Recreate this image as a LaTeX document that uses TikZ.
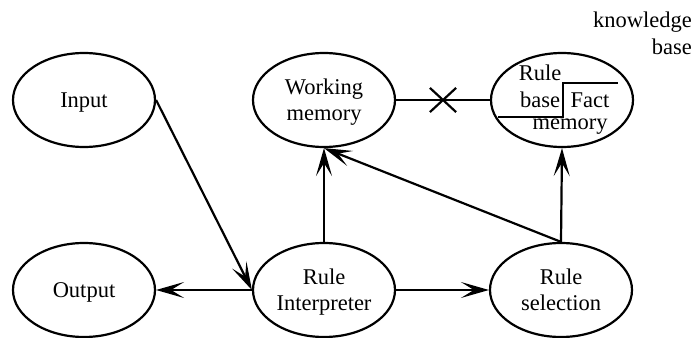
\documentclass[tikz,border=0pt]{standalone}
\usepackage{fontspec}
\setmainfont{Liberation Serif}
\usetikzlibrary{shapes.geometric, shapes.misc, arrows.meta}

\begin{document}
\begin{tikzpicture}[x=1pt, y=-1pt, line width=2.2pt,
    every node/.style={font=\fontsize{22.5}{26}\selectfont},
    blob/.style={ellipse, draw, minimum width=142pt, minimum height=94pt, inner sep=0pt, align=center, text depth=0pt},
    arr/.style={-{Stealth[length=28pt, width=16pt, inset=13pt]}},
    crossmark/.style={cross out, draw, minimum width=24pt, minimum height=22pt, inner sep=0pt},
    word/.style={anchor=base, inner sep=0pt}]
  \useasboundingbox (0,0) rectangle (698,337);

  % top row
  \node[blob] (input) at (84,100) {Input};
  \node[blob] (wm) at (324,100) {Working\\memory};
  \node[blob] (kb) at (562,100) {};

  % bottom row
  \node[blob] (output) at (84,290) {Output};
  \node[blob] (ri) at (324,290) {Rule\\Interpreter};
  \node[blob] (rs) at (561,290) {Rule\\selection};

  % inside the knowledge base
  \draw (498,117) -| (563,83) -- (618,83);
  \node[word] (rulew) at (540,81) {Rule};
  \node[word] (basew) at (540,107) {base};
  \node[word] (factw) at (590,107) {Fact};
  \node[word] (memw) at (570,129) {memory};

  \node[word, anchor=base east] (kbtop) at (693,28) {knowledge};
  \node[word, anchor=base east] (kbbot) at (693,55) {base};

  % connectors
  \draw (wm) -- node[crossmark] (cut) {} (kb);
  \draw[arr] (input.east) -- (ri.west);
  \draw[arr] (ri.west) -- (output.east);
  \draw[arr] (ri.east) -- (rs.west);
  \draw[arr] (ri.north) -- (wm.south);
  \draw[arr] (rs.north) -- (wm.south);
  \draw[arr] (rs.north) -- (kb.south);
\end{tikzpicture}
\end{document}
